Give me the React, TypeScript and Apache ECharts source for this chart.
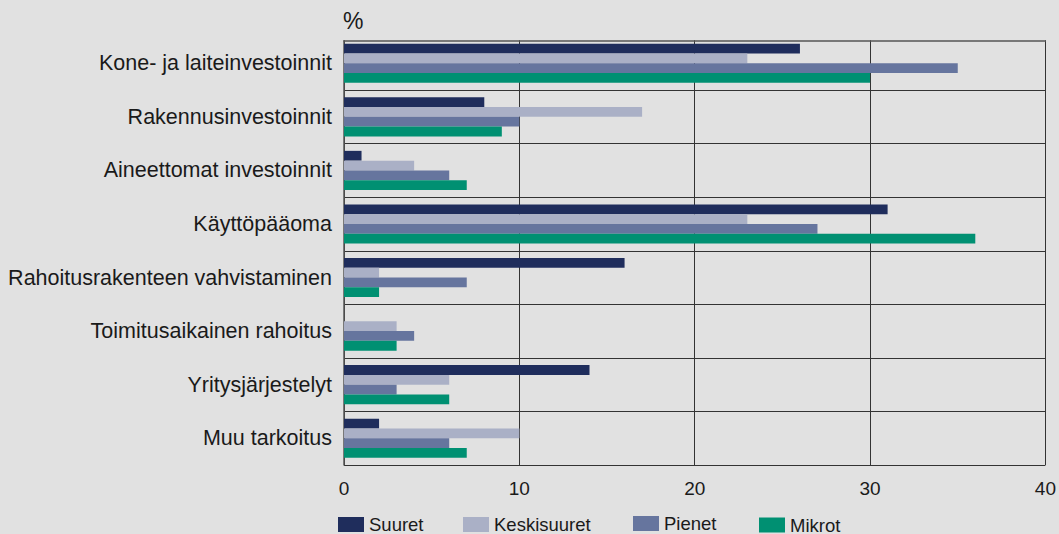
import React, { useEffect, useRef } from "react";
import * as echarts from "echarts";

const categories = [
  "Kone- ja laiteinvestoinnit",
  "Rakennusinvestoinnit",
  "Aineettomat investoinnit",
  "Käyttöpääoma",
  "Rahoitusrakenteen vahvistaminen",
  "Toimitusaikainen rahoitus",
  "Yritysjärjestelyt",
  "Muu tarkoitus",
];
const suuret = [26, 8, 1, 31, 16, 0, 14, 2];
const keskisuuret = [23, 17, 4, 23, 2, 3, 6, 10];
const pienet = [35, 10, 6, 27, 7, 4, 3, 6];
const mikrot = [30, 9, 7, 36, 2, 3, 6, 7];
const seriesNames = ["Suuret", "Keskisuuret", "Pienet", "Mikrot"];
const xTicks = [0, 40, 10];

const BG = "#e1e1e1";
const colors = ["#1f2d5c", "#aab0c6", "#66759e", "#009072"];
const NARROW = "'Liberation Sans Narrow', 'Arial Narrow', 'Liberation Sans', Arial, sans-serif";
const SANS = "'Liberation Sans', Arial, sans-serif";

export default function App() {
  const ref = useRef<HTMLDivElement>(null);
  useEffect(() => {
    if (!ref.current) return;
    const chart = echarts.init(ref.current, null, { renderer: "svg" });
    const data = [suuret, keskisuuret, pienet, mikrot];
    const legendLefts = [338, 463, 633, 759];
    const legendTops = [515, 515, 514, 515.5];
    chart.setOption({
      animation: false,
      backgroundColor: BG,
      grid: { left: 344, right: 13, top: 36.5, bottom: 69, containLabel: false },
      xAxis: {
        type: "value",
        min: xTicks[0],
        max: xTicks[1],
        interval: xTicks[2],
        axisLine: { show: false },
        axisTick: { show: false },
        axisLabel: { fontFamily: NARROW, fontSize: 19, color: "#1a1a1a", margin: 14 },
        splitLine: { show: true, lineStyle: { color: "#333", width: 1 } },
      },
      yAxis: {
        type: "category",
        data: categories,
        inverse: true,
        axisLine: { show: true, lineStyle: { color: "#555", width: 1.5 } },
        axisTick: { show: false },
        axisLabel: { fontFamily: SANS, fontSize: 21.5, color: "#1a1a1a", margin: 12 },
        splitLine: { show: true, lineStyle: { color: "#333", width: 1 } },
      },
      legend: seriesNames.map((n, i) => ({
        data: [n],
        left: legendLefts[i],
        top: legendTops[i],
        orient: "horizontal",
        itemWidth: 26,
        itemHeight: 15,
        icon: "rect",
        padding: 0,
        selectedMode: false,
        textStyle: { fontFamily: NARROW, fontSize: 18.5, lineHeight: 18, color: "#1a1a1a" },
      })),
      series: seriesNames.map((n, i) => ({
        name: n,
        type: "bar",
        data: data[i],
        barGap: "0%",
        barCategoryGap: "27%",
        itemStyle: { color: colors[i] },
      })),
      graphic: [
        {
          type: "rect",
          z: 100,
          shape: { x: 340, y: 34, width: 710, height: 6.3 },
          style: { fill: BG },
        },
        {
          type: "line",
          z: 101,
          shape: { x1: 343.5, y1: 41, x2: 1046, y2: 41 },
          style: { stroke: "#555", lineWidth: 1.5 },
        },
        {
          type: "text",
          z: 101,
          left: 343,
          top: 9,
          style: { text: "%", font: `23px ${SANS}`, fill: "#1a1a1a" },
        },
      ],
    });
    return () => chart.dispose();
  }, []);
  return (
    <div
      ref={ref}
      style={{ position: "fixed", left: 0, top: 0, width: 1059, height: 534 }}
    />
  );
}
